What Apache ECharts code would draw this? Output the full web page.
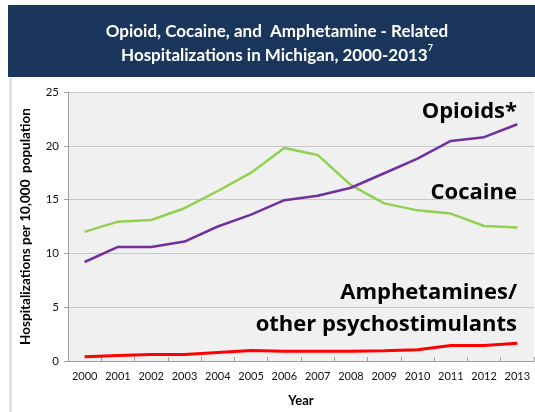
<!DOCTYPE html>
<html><head><meta charset="utf-8">
<script src="https://cdn.jsdelivr.net/npm/echarts@6/dist/echarts.min.js"></script>
<style>html,body{margin:0;padding:0;background:#fff}#c{width:535px;height:412px}</style>
</head><body><div id="c"></div>
<script>
const years = ['2000','2001','2002','2003','2004','2005','2006','2007','2008','2009','2010','2011','2012','2013'];
const cocaine = [12.0,12.95,13.1,14.2,15.8,17.5,19.8,19.15,16.35,14.65,14.0,13.7,12.55,12.4];
const opioids = [9.2,10.6,10.6,11.1,12.5,13.6,14.95,15.35,16.1,17.45,18.8,20.45,20.8,22.0];
const amphetamines = [0.4,0.5,0.6,0.6,0.8,0.97,0.9,0.9,0.9,0.95,1.05,1.43,1.45,1.65];
const yTicks = [0,5,10,15,20,25];

const chart = echarts.init(document.getElementById('c'));
const F = 'Lato, "Open Sans", sans-serif';
const A = '"Open Sans", sans-serif';
chart.setOption({
  animation:false,
  graphic:[
    {type:'rect',shape:{x:8,y:5,width:527,height:72},style:{fill:'#1b365d'},z:0},
    {type:'rect',shape:{x:9,y:78,width:3,height:334},style:{fill:'#e0e0e0'},z:0},
    {type:'text',x:517,y:112,style:{text:'Opioids*',font:'bold 22px '+A,fill:'#000',textAlign:'right',textVerticalAlign:'middle'}},
    {type:'text',x:517,y:193,style:{text:'Cocaine',font:'bold 22px '+A,fill:'#000',textAlign:'right',textVerticalAlign:'middle'}},
    {type:'text',x:517,y:293,style:{text:'Amphetamines/',font:'bold 22px '+A,fill:'#000',textAlign:'right',textVerticalAlign:'middle'}},
    {type:'text',x:517,y:325,style:{text:'other psychostimulants',font:'bold 22px '+A,fill:'#000',textAlign:'right',textVerticalAlign:'middle'}}
  ],
  title:{
    text:'{a|Opioid, Cocaine, and  Amphetamine - Related}\n{a|Hospitalizations in Michigan, 2000-2013}{s|7}',
    left:272, textAlign:'center', top:15,
    textStyle:{rich:{a:{color:'#fff',fontFamily:F,fontWeight:'bold',fontSize:17,lineHeight:24},
      s:{color:'#fff',fontFamily:F,fontSize:9,verticalAlign:'top',lineHeight:24,padding:[0,0,10,0]}}}
  },
  grid:{left:68,right:1,top:92,bottom:46,show:true,backgroundColor:'#f0f0f0',borderWidth:0},
  xAxis:{type:'category',data:years,boundaryGap:true,
    name:'Year',nameLocation:'middle',nameGap:33,
    nameTextStyle:{color:'#000',fontWeight:'bold',fontSize:13,fontFamily:F},
    axisLine:{lineStyle:{color:'#a0a0a0'}},
    axisTick:{show:true,inside:true,length:4,interval:0,lineStyle:{color:'#a0a0a0'}},
    axisLabel:{color:'#111',fontSize:11,fontFamily:F,margin:10,interval:0}},
  yAxis:{type:'value',min:0,max:25,interval:5,
    name:'Hospitalizations per 10,000  population',nameLocation:'middle',nameGap:35,
    nameTextStyle:{color:'#000',fontWeight:'bold',fontSize:13.5,fontFamily:F},
    axisLine:{show:true,lineStyle:{color:'#a0a0a0'}},
    axisTick:{show:true,length:4,lineStyle:{color:'#a0a0a0'}},
    axisLabel:{color:'#111',fontSize:11.5,fontFamily:F,margin:9,formatter:v=>yTicks.includes(v)?String(v):''},
    splitLine:{lineStyle:{color:'#c8c8c8'}}},
  series:[
    {type:'line',data:cocaine,symbol:'none',lineStyle:{color:'#92d050',width:2.5}},
    {type:'line',data:opioids,symbol:'none',lineStyle:{color:'#7030a0',width:2.5}},
    {type:'line',data:amphetamines,symbol:'none',lineStyle:{color:'#ff0000',width:3}}
  ]
});
</script></body></html>
